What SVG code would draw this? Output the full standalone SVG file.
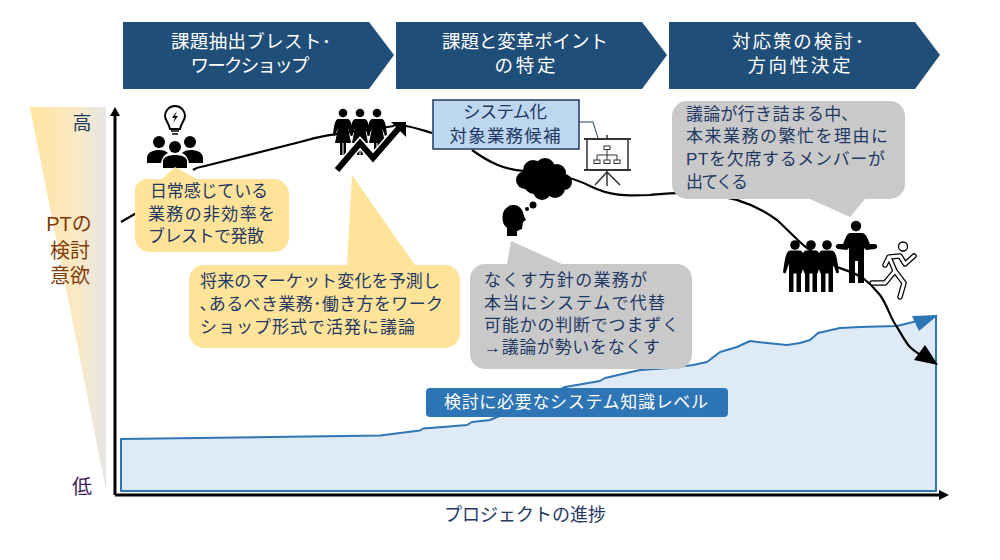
<svg xmlns="http://www.w3.org/2000/svg" width="1000" height="560" viewBox="0 0 1000 560">
<style>
text{font-family:"Liberation Sans","Noto Sans CJK JP",sans-serif;text-anchor:middle}
.h{font-size:18.500px;fill:#fff}
.b{font-size:17.500px;fill:#1f3864}
.l{font-size:17px;fill:#1f3864;text-anchor:start}
.ax{font-size:19px}
.hd{fill:#1f4e79}
.y{fill:#ffe399}
.g{fill:#c9c9c9}
</style>
<defs>
<linearGradient id="gr" x1="0" x2="1" y1="0" y2="0"><stop offset="0" stop-color="#ffe3a0"/><stop offset="0.6" stop-color="#fbe9c4"/><stop offset="1" stop-color="#e6e6e6"/></linearGradient>
<g id="man"><circle cx="0" cy="-21.500" r="4.800"/><path d="M-5-16H5C9-15 10-9 12 6L9.500 7 6-3V25.500H1.500V7H-1.500V25.500H-6V-3L-9.500 7-12 6C-10-9-9-15-5-16Z"/></g>
<g id="woman"><circle cx="0" cy="-20" r="4.300"/><path d="M-5-14H5C8-13 9-8 10 2L8 3 5-5 8 10H3V22H.5V10H-.5V22H-3V10H-8L-5-5-8 3-10 2C-9-8-8-13-5-14Z"/></g>
</defs>
<g id="level-axis-band"><polygon points="30,107 106,107 106,490" fill="url(#gr)"/></g>
<g id="phase-1"><polygon class="hd" points="123,22 369,22 394,55 369,89 123,89"/><text class="h" x="251" y="48" textLength="160">課題抽出ブレスト･</text><text class="h" x="250" y="72" textLength="119">ワークショップ</text></g>
<g id="phase-2"><polygon class="hd" points="396,22 642,22 667,55 642,89 396,89"/><text class="h" x="525" y="48" textLength="166">課題と変革ポイント</text><text class="h" x="525" y="72" textLength="61">の特定</text></g>
<g id="phase-3"><polygon class="hd" points="669,22 915,22 940,55 915,89 669,89"/><text class="h" x="798" y="48" textLength="132">対応策の検討･</text><text class="h" x="799" y="72" textLength="103">方向性決定</text></g>
<g id="knowledge-area"><path d="M121 439 380 435.500 420 430.500 423 428.500 443 427 467 425 472 422 490 420 497 417 530 405 565 387 600 381 605 378 640 370 670 368 693 365 707 362 720 352 737 347 750 341 767 343 787 345 800 343 810 340 818 333 840 328 860 327 897 326 913 322 936 316V491H121Z" fill="#deeaf6" stroke="#2e75b6" stroke-width="2" stroke-linejoin="round"/><polygon points="912,316 938,315 919,331" fill="#2e75b6"/></g>
<g id="icon-absent-people">
<use href="#man" x="795" y="266.500"/><use href="#man" x="811" y="266.500"/><use href="#man" x="827" y="266.500"/>
<circle cx="856" cy="226" r="5.200"/><path d="M850 233H862C867 234 868 240 870 244L875 244C878 245 878 248 875 249L866 250 864 248V283H858V261H855V283H849V248L847 250 838 249C835 248 835 245 838 244L843 244C845 240 846 234 850 233Z"/>
<g fill="none" stroke-linecap="round" stroke-linejoin="round"><path d="M885 265 889 257 900 256 905 264 914 256M889 257 895 271 885 283H872M895 271 904 283 900 297" stroke="#000" stroke-width="5.500"/><path d="M885 265 889 257 900 256 905 264 914 256M889 257 895 271 885 283H872M895 271 904 283 900 297" stroke="#fff" stroke-width="3"/><circle cx="903" cy="246.500" r="4.500" fill="#fff" stroke="#000" stroke-width="1.300"/></g>
</g>
<g id="connectors" fill="none">
<path d="M121 222 145 208M193 170C197 167 200 167 205 166L300 142C330 133 350 133 400 125 415 127 425 131 432 133M472 150C490 163 505 170 525 171 545 172 570 176 590 186 610 196 625 196 650 195 670 193 730 185 777 220 790 232 800 243 807 248 820 257 828 262 837 267 848 271 857 274 863 278 872 285 876 290 880 295 888 306 890 318 897 327 903 337 906 343 910 347 916 353 920 355 934 363" stroke="#000" stroke-width="2.200"/>
<polygon points="938,365 914,360 925,345" fill="#000"/>
<path d="M115 495V110M115 495H945" stroke="#000" stroke-width="3"/>
<polygon points="115,107 110,116 120,116" fill="#000"/>
<polygon points="949,495 939,490 939,500" fill="#000"/>
<path d="M579 122H593L598 138" stroke="#1f3864" stroke-width="1"/>
</g>
<g id="axis-labels">
<text class="ax" x="82" y="130" fill="#1f3864">高</text>
<text x="69" y="231" font-size="20" fill="#843c0c">PTの</text><text x="70" y="258" font-size="20" fill="#843c0c">検討</text><text x="70" y="283" font-size="20" fill="#843c0c">意欲</text>
<text x="82" y="494" font-size="20" fill="#3b1f5c">低</text>
<text x="525" y="521" font-size="18" fill="#1f3864">プロジェクトの進捗</text>
</g>
<g id="icon-workshop">
<path d="M175 106C169 106 165 111 165 116 165 120 169 123 170 129H180C181 123 185 120 185 116 185 111 181 106 175 106Z" fill="#fff" stroke="#000" stroke-width="2"/>
<path d="M177 111 172 118H175L173 123 178 116H175Z"/><path d="M171 131H179M172 134H178" stroke="#000" stroke-width="1.500"/>
<circle cx="159" cy="142" r="6"/><circle cx="175" cy="147" r="6"/><circle cx="190" cy="142" r="6"/>
<path d="M147 163V158C147 152 154 150 159 150 163 150 166 151 168 153 164 155 162 158 161 163Z"/><path d="M203 163V158C203 152 196 150 191 150 187 150 184 151 182 153 186 155 188 158 189 163Z"/>
<path d="M163 168V161C163 157 169 155 175 155 181 155 187 157 187 161V168Z"/>
</g>
<g id="callout-brainstorm"><path class="y" d="M147 179H162L175 167 197 179H274A15 15 0 0 1 289 194V237A15 15 0 0 1 274 252H150A15 15 0 0 1 135 237V191A12 12 0 0 1 147 179Z"/>
<text class="l" x="150" y="197" textLength="118">日常感じている</text><text class="l" x="148" y="220" textLength="127">業務の非効率を</text><text class="l" x="148" y="242" textLength="116">ブレストで発散</text></g>
<g id="icon-market">
<use href="#woman" x="343" y="133"/><use href="#woman" x="360" y="133"/><use href="#woman" x="377" y="133"/>
<path d="M337 170 360 143 373 158 399 128" fill="none" stroke="#fff" stroke-width="9"/>
<path d="M337 170 360 143 373 158 399 128" fill="none" stroke="#000" stroke-width="6"/>
<polygon points="391,122 406,122 406,137"/>
</g>
<g id="callout-future"><path class="y" d="M352 175 415 265H445A15 15 0 0 1 460 280V333A15 15 0 0 1 445 348H204A15 15 0 0 1 189 333V280A15 15 0 0 1 204 265H347Z"/>
<text class="l" x="200" y="287" textLength="240">将来のマーケット変化を予測し</text><text class="l" x="200" y="310" textLength="243">､あるべき業務･働き方をワーク</text><text class="l" x="200" y="333" textLength="215">ショップ形式で活発に議論</text></g>
<g id="box-system"><rect x="433" y="100" width="146" height="49" fill="#bdd7ee" stroke="#1f3864" stroke-width="1.500"/><text class="b" x="505" y="118" textLength="84">システム化</text><text class="b" x="505" y="142" textLength="111">対象業務候補</text></g>
<g id="icon-presentation" fill="none" stroke="#333">
<path d="M584 139H631M584 170H631" stroke-width="2"/><path d="M587 139V170M628 139V170M607 135V139M607 170V186M607 172 595 185M607 172 620 185" stroke-width="1.500"/>
<rect x="604" y="146" width="6" height="3.500" stroke-width="1"/><rect x="594" y="160" width="6" height="3.500" stroke-width="1"/><rect x="604" y="160" width="6" height="3.500" stroke-width="1"/><rect x="614" y="160" width="6" height="3.500" stroke-width="1"/>
<path d="M607 149.500V160M597 160V155H617V160" stroke-width="1"/>
</g>
<g id="icon-thinking">
<circle cx="533" cy="170" r="10"/><circle cx="545" cy="168" r="10"/><circle cx="557" cy="173" r="9"/><circle cx="564" cy="182" r="8"/><circle cx="555" cy="188" r="10"/><circle cx="542" cy="191" r="9"/><circle cx="525" cy="180" r="9"/><circle cx="535" cy="182" r="12"/><circle cx="548" cy="180" r="10"/>
<circle cx="533" cy="205" r="3.500"/><circle cx="527" cy="209" r="2"/>
<path d="M507 236V228C502 224 502 218 503 213 506 205 513 204 518 206 523 209 523 213 524 216L526 220 523 222 522 229 517 231V236Z"/>
</g>
<g id="callout-drop"><path class="g" d="M511 241 562 264H677A15 15 0 0 1 692 279V354A15 15 0 0 1 677 369H485A15 15 0 0 1 470 354V279A15 15 0 0 1 485 264H507Z"/>
<text class="l" x="484" y="286" textLength="163">なくす方針の業務が</text><text class="l" x="484" y="309" textLength="181">本当にシステムで代替</text><text class="l" x="484" y="331" textLength="195">可能かの判断でつまずく</text><text class="l" x="484" y="353" textLength="176">→議論が勢いをなくす</text></g>
<g id="callout-absence"><path class="g" d="M687 101H890A15 15 0 0 1 905 116V184A15 15 0 0 1 890 199H865L850 217 810 199H687A15 15 0 0 1 672 184V116A15 15 0 0 1 687 101Z"/>
<text class="l" x="686" y="120" textLength="164">議論が行き詰まる中､</text><text class="l" x="686" y="142" textLength="202">本来業務の繁忙を理由に</text><text class="l" x="686" y="165" textLength="199">PTを欠席するメンバーが</text><text class="l" x="686" y="188" textLength="62">出てくる</text></g>
<g id="label-knowledge"><rect x="426" y="388" width="302" height="29" rx="4" fill="#2e75b6"/><text x="576" y="408" font-size="17" fill="#fff" textLength="264">検討に必要なシステム知識レベル</text></g>
</svg>
